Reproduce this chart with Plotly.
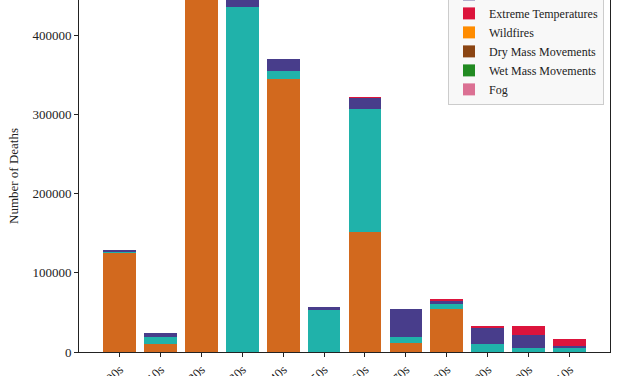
import plotly.graph_objects as go

decades = ["1900s", "1910s", "1920s", "1930s", "1940s", "1950s",
           "1960s", "1970s", "1980s", "1990s", "2000s", "2010s"]

drought = [126000, 10000, 470000, 0, 344000, 0, 151000, 11000, 54000, 0, 0, 300]
floods = [300, 8500, 0, 436000, 11000, 53600, 155500, 7600, 6300, 9700, 4700, 4300]
severe_storms = [1500, 5500, 0, 10000, 14400, 3500, 14800, 36000, 5000, 21800, 16800, 3000]
extreme_temps = [0, 0, 0, 0, 0, 0, 400, 0, 500, 600, 11400, 8500]
wildfires = [0, 0, 0, 0, 0, 0, 0, 0, 0, 0, 0, 0]
dry_mass = [0, 0, 0, 0, 0, 0, 0, 0, 0, 0, 0, 0]
wet_mass = [0, 0, 0, 0, 0, 0, 0, 0, 0, 0, 0, 0]
fog = [0, 0, 0, 0, 0, 0, 0, 0, 0, 0, 0, 0]

series = [
    ("Drought", drought, "#D2691E"),
    ("Floods", floods, "#20B2AA"),
    ("Severe Storms", severe_storms, "#483D8B"),
    ("Extreme Temperatures", extreme_temps, "#DC143C"),
    ("Wildfires", wildfires, "#FF8C00"),
    ("Dry Mass Movements", dry_mass, "#8B4513"),
    ("Wet Mass Movements", wet_mass, "#228B22"),
    ("Fog", fog, "#DB7093"),
]

FONT = "Liberation Serif"

fig = go.Figure()
for name, vals, color in series:
    fig.add_trace(go.Bar(
        x=list(range(len(decades))), y=vals, name=name,
        marker=dict(color=color, line=dict(width=0)),
        width=0.8,
    ))

fig.update_layout(
    barmode="stack",
    width=626, height=376,
    margin=dict(l=79, r=16, t=0, b=24, autoexpand=False),
    paper_bgcolor="white", plot_bgcolor="white",
    font=dict(family=FONT, size=13, color="#222"),
    showlegend=True,
    legend=dict(
        x=0.9887, xanchor="right", y=0.702, yanchor="bottom",
        traceorder="normal",
        bgcolor="rgba(247,247,247,0.9)", bordercolor="#cccccc", borderwidth=1,
        font=dict(family=FONT, size=12, color="#222"),
        tracegroupgap=0, itemwidth=30,
    ),
)

fig.update_xaxes(
    range=[-0.99, 11.99],
    tickmode="array", tickvals=list(range(len(decades))), ticktext=decades,
    tickangle=-45,
    showline=True, linecolor="#222", linewidth=1, mirror=False,
    ticks="outside", ticklen=4, tickcolor="#222",
    showgrid=False, zeroline=False,
)
fig.update_yaxes(
    range=[0, 444200],
    tickmode="array", tickvals=[0, 100000, 200000, 300000, 400000],
    ticktext=["0", "100000", "200000", "300000", "400000"],
    showline=True, linecolor="#222", linewidth=1, mirror=True,
    ticks="outside", ticklen=4, tickcolor="#222",
    showgrid=False, zeroline=False,
    title=dict(text="Number of Deaths", font=dict(family=FONT, size=13, color="#222"), standoff=10),
)

fig.write_html(
    "out.html",
    config={"displayModeBar": False},
    post_script="document.body.style.margin='0';document.body.style.overflow='hidden';",
)
